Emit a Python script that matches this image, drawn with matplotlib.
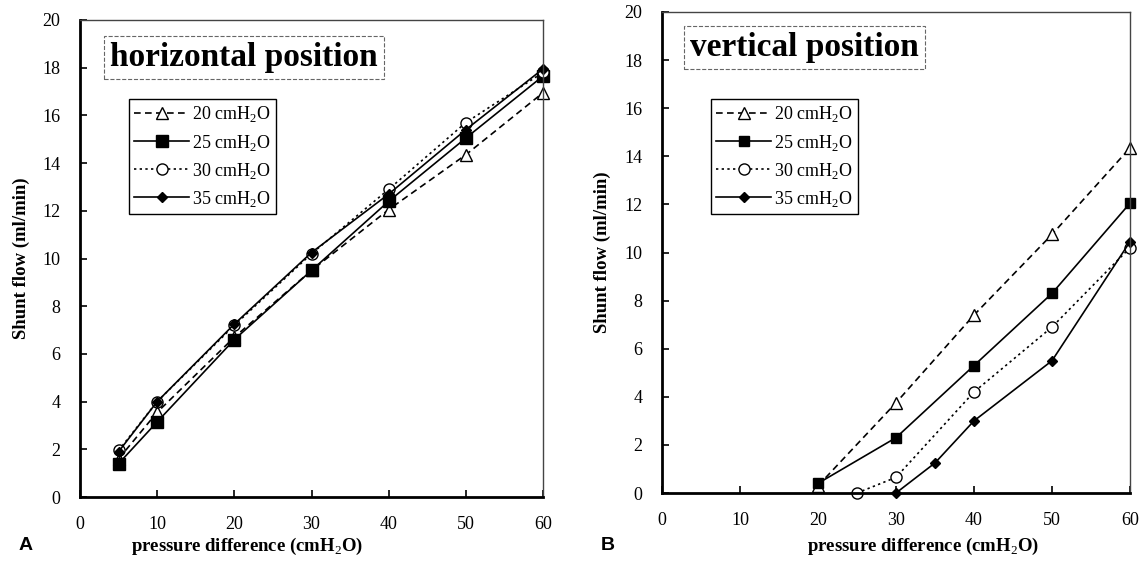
import matplotlib
matplotlib.use("Agg")
import matplotlib.pyplot as plt

plt.rcParams['font.family'] = ['Liberation Serif', 'DejaVu Serif']
plt.rcParams['mathtext.fontset'] = 'custom'
plt.rcParams['mathtext.rm'] = 'Liberation Serif'

# panel A - horizontal position
xa = [5, 10, 20, 30, 40, 50, 60]
a20 = [1.6, 3.55, 6.7, 9.5, 12.05, 14.35, 16.95]
a25 = [1.4, 3.15, 6.6, 9.5, 12.4, 15.05, 17.65]
a30 = [1.95, 4.0, 7.2, 10.2, 12.9, 15.7, 17.8]
a35 = [1.9, 4.0, 7.25, 10.25, 12.7, 15.4, 17.95]

# panel B - vertical position
b20_x = [20, 30, 40, 50, 60]
b20 = [0.3, 3.75, 7.4, 10.75, 14.35]
b25_x = [20, 30, 40, 50, 60]
b25 = [0.4, 2.3, 5.3, 8.3, 12.05]
b30_x = [25, 30, 40, 50, 60]
b30 = [0.0, 0.65, 4.2, 6.9, 10.2]
b35_x = [30, 35, 40, 50, 60]
b35 = [0.0, 1.25, 3.0, 5.5, 10.45]

labels = [r'20 cmH$_2$O', r'25 cmH$_2$O', r'30 cmH$_2$O', r'35 cmH$_2$O']
xticks = [0, 10, 20, 30, 40, 50, 60]
yticks = list(range(0, 21, 2))

W, H = 1143, 573
fig = plt.figure(figsize=(W / 100, H / 100), dpi=100)

def px_axes(l, t, r, b):
    return fig.add_axes([l / W, 1 - b / H, (r - l) / W, (b - t) / H])

axA = px_axes(80, 20, 543, 497)
axB = px_axes(662, 12, 1130, 493)


def draw(ax, series, msizes, title, title_xy, leg_xy):
    styles = [
        dict(ls=(0, (4.0, 2.6)), marker='^', mfc='white', mec='black'),
        dict(ls='-', marker='s', mfc='black', mec='black'),
        dict(ls=(0, (1.4, 2.0)), marker='o', mfc='white', mec='black'),
        dict(ls='-', marker='D', mfc='black', mec='black'),
    ]
    for (x, y), st, ms, lab in zip(series, styles, msizes, labels):
        ax.plot(x, y, color='black', lw=1.2, ms=ms, mew=1.0, clip_on=False,
                label=lab, **st)
    ax.set_xlim(0, 60)
    ax.set_ylim(0, 20)
    ax.set_xticks(xticks)
    ax.set_yticks(yticks)
    ax.tick_params(direction='in', length=5, width=1.2, pad=14, labelsize=13)
    for s in ['left', 'bottom']:
        ax.spines[s].set_linewidth(2)
    for s in ['top', 'right']:
        ax.spines[s].set_linewidth(1)
        ax.spines[s].set_color('#444444')
    ax.text(title_xy[0], title_xy[1], title, transform=ax.transAxes,
            fontsize=24, fontweight='bold', va='top', ha='left',
            bbox=dict(boxstyle='square,pad=0.18', fc='white', ec='#666666',
                      lw=0.8, ls='--'))
    leg = ax.legend(loc='upper left', bbox_to_anchor=leg_xy, fontsize=13,
                    handlelength=3.0, handletextpad=0.2, labelspacing=0.45,
                    borderpad=0.3, borderaxespad=0, fancybox=False,
                    framealpha=1, edgecolor='black')
    leg.get_frame().set_linewidth(1.0)


draw(axA, [(xa, a20), (xa, a25), (xa, a30), (xa, a35)], [8, 9, 8, 5.5],
     'horizontal position', (30 / 463, 1 - 22 / 477), (49 / 463, 1 - 79 / 477))
draw(axB, [(b20_x, b20), (b25_x, b25), (b30_x, b30), (b35_x, b35)],
     [8, 7, 8, 5], 'vertical position', (28 / 468, 1 - 20 / 481),
     (49 / 468, 1 - 87 / 481))

for ax in (axA, axB):
    ax.set_ylabel('Shunt flow (ml/min)', fontsize=13.5, fontweight='bold')
    ax.yaxis.set_label_coords(-50 / 463, 0.5)

fig.text(247 / W, 1 - 546 / H, r'pressure difference (cmH$_2$O)', fontsize=13.5,
         fontweight='bold', ha='center', va='center')
fig.text(923 / W, 1 - 546 / H, r'pressure difference (cmH$_2$O)', fontsize=13.5,
         fontweight='bold', ha='center', va='center')
fig.text(26 / W, 1 - 546 / H, 'A', family='Liberation Sans', fontsize=14,
         fontweight='bold', ha='center', va='center')
fig.text(608 / W, 1 - 546 / H, 'B', family='Liberation Sans', fontsize=14,
         fontweight='bold', ha='center', va='center')

fig.savefig('out.png', dpi=100)
